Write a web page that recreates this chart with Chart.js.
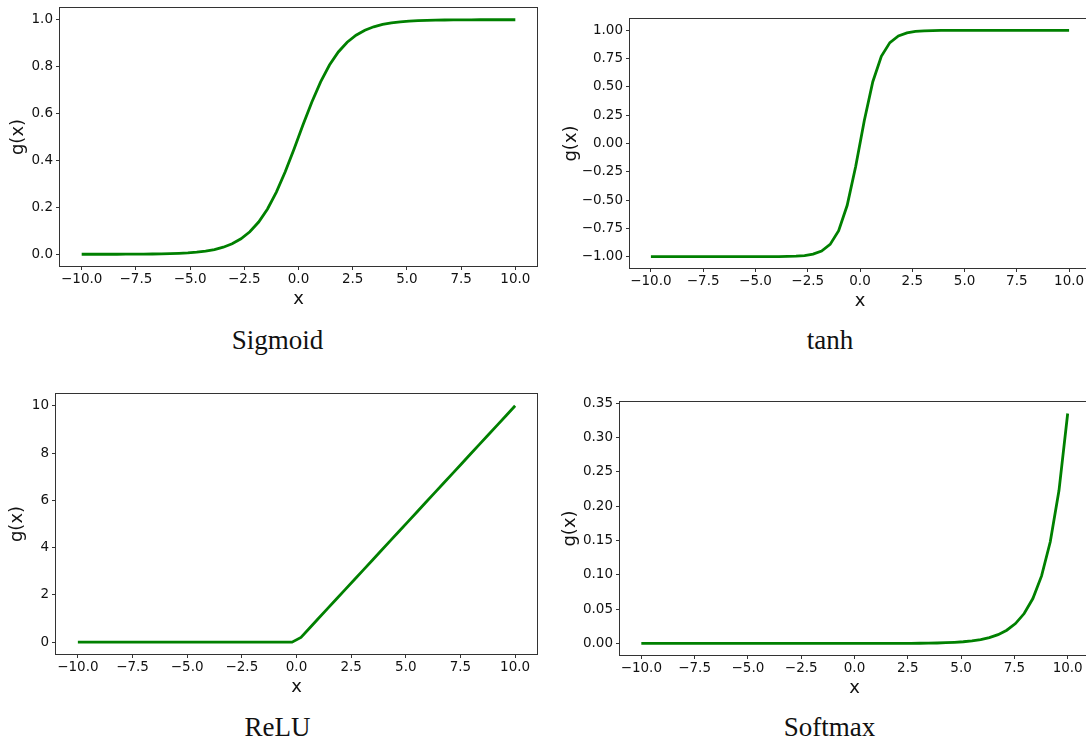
<!DOCTYPE html>
<html>
<head>
<meta charset="utf-8">
<script src="https://cdn.jsdelivr.net/npm/chart.js"></script>
<style>
  html, body { margin: 0; padding: 0; background: #fff; overflow: hidden; }
  body { width: 1086px; height: 742px; position: relative; }
  canvas { position: absolute; }
  .ttl { position: absolute; font-family: "Liberation Serif", serif; font-size: 27px; line-height: 27px;
         color: #111; transform: translateX(-50%); white-space: nowrap; }
</style>
</head>
<body>
<canvas id="c1"></canvas>
<canvas id="c2"></canvas>
<canvas id="c3"></canvas>
<canvas id="c4"></canvas>
<div class="ttl" style="left:277.5px; top:326.5px">Sigmoid</div>
<div class="ttl" style="left:830px; top:326.5px">tanh</div>
<div class="ttl" style="left:277.5px; top:714px">ReLU</div>
<div class="ttl" style="left:829.5px; top:714px">Softmax</div>
<script>
// sample points (50 values from -10 to 10)
const xs = [-10, -9.5918, -9.1837, -8.7755, -8.3673, -7.9592, -7.5510, -7.1429, -6.7347, -6.3265,
  -5.9184, -5.5102, -5.1020, -4.6939, -4.2857, -3.8776, -3.4694, -3.0612, -2.6531, -2.2449,
  -1.8367, -1.4286, -1.0204, -0.6122, -0.2041, 0.2041, 0.6122, 1.0204, 1.4286, 1.8367,
  2.2449, 2.6531, 3.0612, 3.4694, 3.8776, 4.2857, 4.6939, 5.1020, 5.5102, 5.9184,
  6.3265, 6.7347, 7.1429, 7.5510, 7.9592, 8.3673, 8.7755, 9.1837, 9.5918, 10];

const sigmoidVals = [0.0000, 0.0001, 0.0001, 0.0002, 0.0002, 0.0003, 0.0005, 0.0008, 0.0012, 0.0018,
  0.0027, 0.0040, 0.0060, 0.0091, 0.0136, 0.0203, 0.0302, 0.0448, 0.0658, 0.0958,
  0.1375, 0.1934, 0.2651, 0.3516, 0.4492, 0.5508, 0.6484, 0.7349, 0.8066, 0.8625,
  0.9042, 0.9342, 0.9552, 0.9698, 0.9797, 0.9864, 0.9909, 0.9940, 0.9960, 0.9973,
  0.9982, 0.9988, 0.9992, 0.9995, 0.9997, 0.9998, 0.9998, 0.9999, 0.9999, 1.0000];

const tanhVals = [-1.0000, -1.0000, -1.0000, -1.0000, -1.0000, -1.0000, -1.0000, -1.0000, -1.0000, -1.0000,
  -1.0000, -1.0000, -0.9999, -0.9998, -0.9996, -0.9991, -0.9981, -0.9956, -0.9901, -0.9778,
  -0.9505, -0.8914, -0.7700, -0.5457, -0.2013, 0.2013, 0.5457, 0.7700, 0.8914, 0.9505,
  0.9778, 0.9901, 0.9956, 0.9981, 0.9991, 0.9996, 0.9998, 0.9999, 1.0000, 1.0000,
  1.0000, 1.0000, 1.0000, 1.0000, 1.0000, 1.0000, 1.0000, 1.0000, 1.0000, 1.0000];

const reluVals = [0, 0, 0, 0, 0, 0, 0, 0, 0, 0,
  0, 0, 0, 0, 0, 0, 0, 0, 0, 0,
  0, 0, 0, 0, 0, 0.2041, 0.6122, 1.0204, 1.4286, 1.8367,
  2.2449, 2.6531, 3.0612, 3.4694, 3.8776, 4.2857, 4.6939, 5.1020, 5.5102, 5.9184,
  6.3265, 6.7347, 7.1429, 7.5510, 7.9592, 8.3673, 8.7755, 9.1837, 9.5918, 10];

const softmaxVals = [0, 0, 0, 0, 0, 0, 0, 0, 0, 0,
  0, 0, 0, 0, 0, 0, 0, 0, 0, 0,
  0, 0, 0, 0, 0, 0.0000, 0.0000, 0.0000, 0.0001, 0.0001,
  0.0001, 0.0002, 0.0003, 0.0005, 0.0007, 0.0011, 0.0017, 0.0025, 0.0038, 0.0057,
  0.0085, 0.0128, 0.0193, 0.0290, 0.0436, 0.0655, 0.0985, 0.1482, 0.2228, 0.3351];

// tick labels
const xTicks = [-10, -7.5, -5, -2.5, 0, 2.5, 5, 7.5, 10];
const sigmoidTicks = [0, 0.2, 0.4, 0.6, 0.8, 1.0];
const tanhTicks = [-1, -0.75, -0.5, -0.25, 0, 0.25, 0.5, 0.75, 1];
const reluTicks = [0, 2, 4, 6, 8, 10];
const softmaxTicks = [0, 0.05, 0.1, 0.15, 0.2, 0.25, 0.3, 0.35];

Chart.defaults.font.family = "'DejaVu Sans', sans-serif";
Chart.defaults.color = '#111';

function fmt(v, dec) {
  return v.toFixed(dec).replace('-', '\u2212');
}

// frame round the plot area (all four spines)
const framePlugin = {
  id: 'frame',
  afterDraw(chart) {
    const a = chart.chartArea, ctx = chart.ctx;
    ctx.save();
    ctx.strokeStyle = '#333';
    ctx.lineWidth = 1;
    ctx.strokeRect(Math.round(a.left) - 0.5, Math.round(a.top) - 0.5,
      Math.round(a.right - a.left) + 1, Math.round(a.bottom - a.top) + 1);
    ctx.restore();
  }
};

const XH = 44, PT = 12, PR = 2;

function makeChart(id, box, ys, yTicks, yDec, yMin, yMax) {
  const cv = document.getElementById(id);
  const w = box.yw + (box.right - box.left) + PR;
  const h = PT + (box.bottom - box.top) + XH;
  cv.width = w; cv.height = h;
  cv.style.left = (box.left - box.yw) + 'px';
  cv.style.top = (box.top - PT) + 'px';
  cv.style.width = w + 'px';
  cv.style.height = h + 'px';

  return new Chart(cv.getContext('2d'), {
    type: 'line',
    data: {
      datasets: [{
        data: xs.map((x, i) => ({ x: x, y: ys[i] })),
        borderColor: '#008000',
        borderWidth: 2.8,
        pointRadius: 0,
        tension: 0,
        fill: false
      }]
    },
    options: {
      responsive: false,
      animation: false,
      devicePixelRatio: 1,
      layout: { padding: { top: PT, right: PR, left: 0, bottom: 0 } },
      plugins: { legend: { display: false }, tooltip: { enabled: false } },
      scales: {
        x: {
          type: 'linear', min: -11, max: 11,
          afterBuildTicks: s => { s.ticks = xTicks.map(v => ({ value: v })); },
          afterFit: s => { s.height = XH; s.paddingLeft = 0; s.paddingRight = 0; },
          border: { display: false },
          grid: { drawOnChartArea: false, drawTicks: true, tickLength: 4, color: '#333' },
          ticks: { font: { size: 13.5 }, padding: 1, maxRotation: 0, autoSkip: false,
                   callback: v => fmt(v, 1) },
          title: { display: true, text: 'x', font: { size: 18 }, padding: 0, color: '#111' }
        },
        y: {
          type: 'linear', min: yMin, max: yMax,
          afterBuildTicks: s => { s.ticks = yTicks.map(v => ({ value: v })); },
          afterFit: s => { s.width = box.yw; s.paddingTop = 0; s.paddingBottom = 0; },
          border: { display: false },
          grid: { drawOnChartArea: false, drawTicks: true, tickLength: 4, color: '#333' },
          ticks: { font: { size: 13.5 }, padding: 3, autoSkip: false,
                   callback: v => fmt(v, yDec) },
          title: { display: true, text: 'g(x)', font: { size: 18 }, padding: 0, color: '#111' }
        }
      }
    },
    plugins: [framePlugin]
  });
}

makeChart('c1', { left: 60, right: 537, top: 8, bottom: 266, yw: 52 }, sigmoidVals, sigmoidTicks, 1, -0.05, 1.05);
makeChart('c2', { left: 630, right: 1090, top: 19, bottom: 268, yw: 69 }, tanhVals, tanhTicks, 2, -1.1, 1.1);
makeChart('c3', { left: 56, right: 537, top: 394, bottom: 654, yw: 49 }, reluVals, reluTicks, 0, -0.5, 10.5);
makeChart('c4', { left: 620, right: 1089, top: 402, bottom: 655, yw: 60 }, softmaxVals, softmaxTicks, 2, -0.0168, 0.3519);
</script>
</body>
</html>
